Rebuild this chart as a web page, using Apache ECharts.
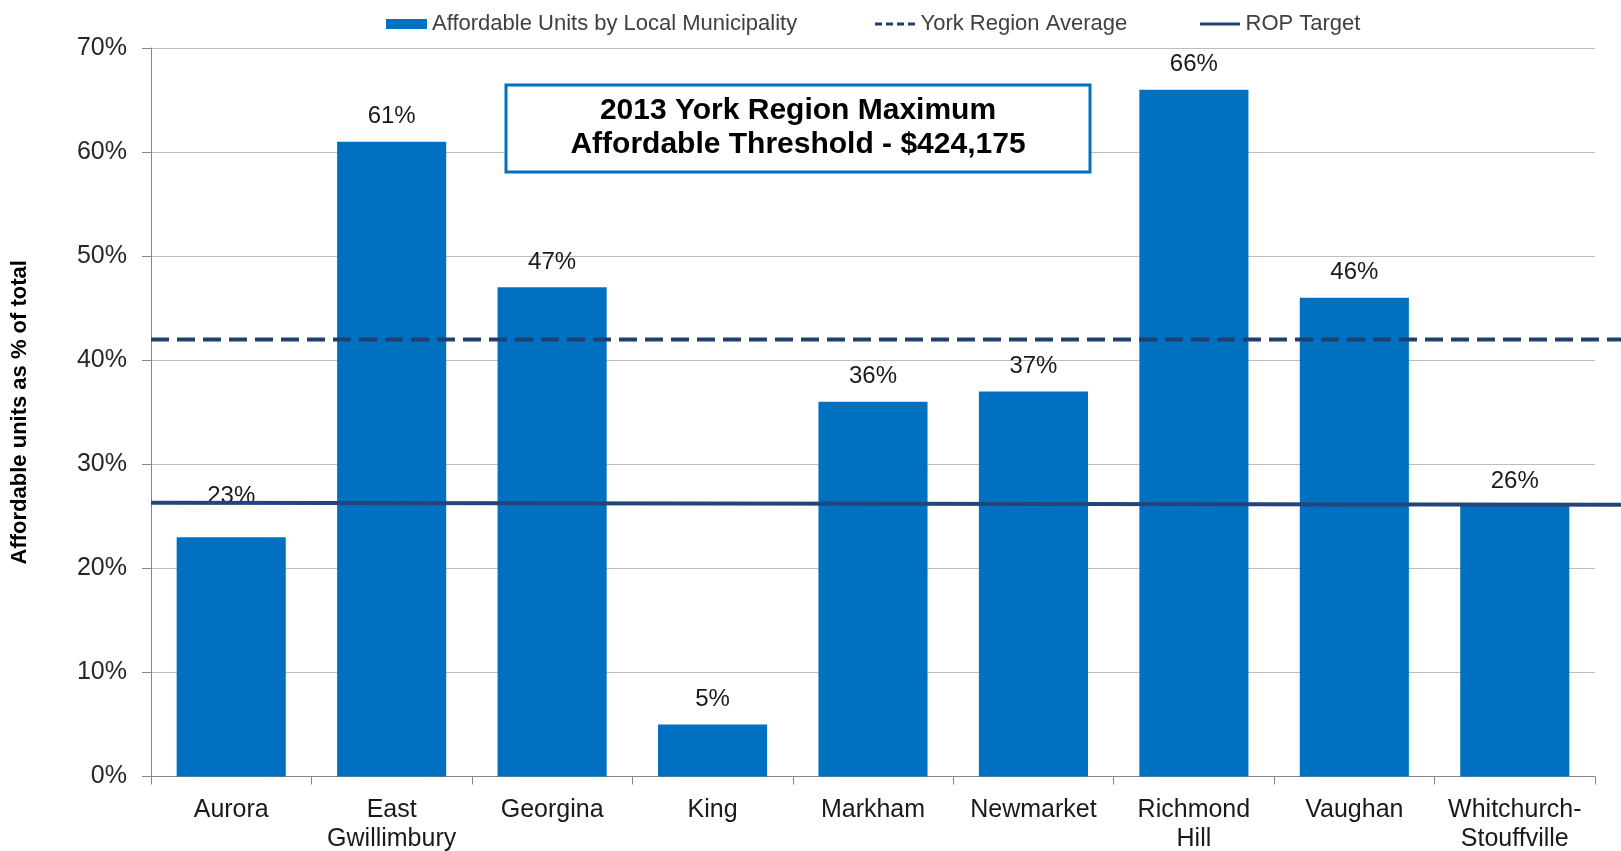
<!DOCTYPE html>
<html lang="en">
<head>
  <meta http-equiv="Content-Type" content="text/html; charset=UTF-8">
  <title>Affordable Units</title>
  <script type="text/javascript" src="https://cdn.jsdelivr.net/npm/echarts@6/dist/echarts.min.js"></script>
  <style>
    html, body { margin: 0; padding: 0; background: #fff; }
  </style>
</head>
<body>
<div id="main" style="width: 1621px;height:851px;"></div>
<script type="text/javascript">
  // data
  var municipalities = ['Aurora', 'East\nGwillimbury', 'Georgina', 'King', 'Markham',
    'Newmarket', 'Richmond\nHill', 'Vaughan', 'Whitchurch-\nStouffville'];
  var affordableShare = [23, 61, 47, 5, 36, 37, 66, 46, 26];
  var yorkAverage = [42.0, 42.0];   // start / end of the dashed line
  var ropTarget = [26.3, 26.1];     // start / end of the solid line
  var yTicks = [0, 10, 20, 30, 40, 50, 60, 70];

  var FONT = '"Liberation Sans", Arial, sans-serif';
  var yMin = yTicks[0], yMax = yTicks[yTicks.length - 1];

  // legend icons drawn as paths so the lines show without a dot
  var DASH_ICON = 'path://M0,0h7v3h-7z M11,0h7v3h-7z M22,0h7v3h-7z M33,0h7v3h-7z';
  var LINE_ICON = 'path://M0,0h40v3h-40z';

  var myChart = echarts.init(document.getElementById('main'));

  function legendFor(name, left, icon, h) {
    return {
      data: [name],
      left: left,
      top: 8,
      icon: icon,
      itemWidth: 41,
      itemHeight: h,
      selectedMode: false,
      textStyle: { fontFamily: FONT, fontSize: 22, color: '#404040' }
    };
  }

  myChart.setOption({
    animation: false,
    textStyle: { fontFamily: FONT },
    legend: [
      legendFor('Affordable Units by Local Municipality', 381, 'rect', 10),
      legendFor('York Region Average', 870, DASH_ICON, 3),
      legendFor('ROP Target', 1195, LINE_ICON, 3)
    ],
    grid: [
      { left: 151, right: 26, top: 48, bottom: 74.5, outerBoundsMode: 'none' },
      { left: 151, right: 0, top: 48, bottom: 74.5, outerBoundsMode: 'none' }
    ],
    xAxis: [
      {
        type: 'category',
        gridIndex: 0,
        data: municipalities,
        axisLine: { lineStyle: { color: '#868686', width: 1 } },
        axisTick: { show: true, length: 8, lineStyle: { color: '#868686' } },
        axisLabel: {
          interval: 0,
          margin: 19,
          fontSize: 25,
          lineHeight: 29,
          color: '#1a1a1a',
          fontFamily: FONT
        }
      },
      { type: 'value', gridIndex: 1, min: 0, max: 1, show: false }
    ],
    yAxis: [
      {
        type: 'value',
        gridIndex: 0,
        min: yMin,
        max: yMax,
        interval: 10,
        name: 'Affordable units as % of total',
        nameLocation: 'middle',
        nameGap: 120,
        nameTextStyle: { fontFamily: FONT, fontSize: 22, fontWeight: 'bold', color: '#000' },
        axisLine: { show: true, lineStyle: { color: '#868686', width: 1 } },
        axisTick: { show: true, length: 9, lineStyle: { color: '#868686' } },
        axisLabel: {
          margin: 24,
          fontSize: 25,
          color: '#262626',
          fontFamily: FONT,
          formatter: '{value}%'
        },
        splitLine: { lineStyle: { color: '#bdbdbd', width: 1 } }
      },
      { type: 'value', gridIndex: 1, min: yMin, max: yMax, show: false }
    ],
    graphic: [
      {
        type: 'rect',
        shape: { x: 506, y: 85, width: 584, height: 87 },
        style: { fill: '#fff', stroke: '#0070C0', lineWidth: 3 },
        z: 100
      },
      {
        type: 'text',
        x: 798,
        y: 128,
        style: {
          text: '2013 York Region Maximum\nAffordable Threshold - $424,175',
          font: 'bold 30px ' + FONT,
          lineHeight: 34,
          align: 'center',
          verticalAlign: 'middle',
          fill: '#000'
        },
        z: 101
      }
    ],
    series: [
      {
        name: 'Affordable Units by Local Municipality',
        type: 'bar',
        xAxisIndex: 0,
        yAxisIndex: 0,
        barWidth: '68%',
        itemStyle: { color: '#0070C0' },
        label: {
          show: true,
          position: 'top',
          distance: 13,
          fontSize: 24,
          color: '#1a1a1a',
          fontFamily: FONT,
          formatter: '{c}%'
        },
        // Aurora's label sits higher, clear of the target line
        data: affordableShare.map(function (v, i) {
          return i === 0 ? { value: v, label: { distance: 29 } } : v;
        })
      },
      {
        name: 'York Region Average',
        type: 'line',
        xAxisIndex: 1,
        yAxisIndex: 1,
        symbol: 'none',
        lineStyle: { color: '#1F3F6E', width: 4, type: [18, 8] },
        itemStyle: { color: '#1F3F6E' },
        data: [[0, yorkAverage[0]], [1, yorkAverage[1]]],
        z: 5
      },
      {
        name: 'ROP Target',
        type: 'line',
        xAxisIndex: 1,
        yAxisIndex: 1,
        symbol: 'none',
        lineStyle: { color: '#24457A', width: 4 },
        itemStyle: { color: '#24457A' },
        data: [[0, ropTarget[0]], [1, ropTarget[1]]],
        z: 5
      }
    ]
  });
</script>
</body>
</html>
